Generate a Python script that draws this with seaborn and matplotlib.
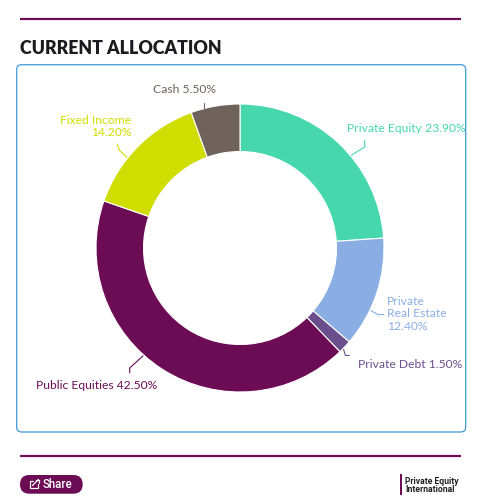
import numpy as np
import matplotlib
matplotlib.use("Agg")
import matplotlib.pyplot as plt
import seaborn as sns
from matplotlib.patches import FancyBboxPatch, Rectangle

# ---- data ----
categories = ["Private Equity", "Private Real Estate", "Private Debt",
              "Public Equities", "Fixed Income", "Cash"]
display_names = ["Private Equity", "Private\nReal Estate", "Private Debt",
                 "Public Equities", "Fixed Income\n", "Cash"]
values = [23.9, 12.4, 1.5, 42.5, 14.2, 5.5]
title = "CURRENT ALLOCATION"

# ---- style ----
colors = ["#47d7ac", "#8aaee3", "#6b4f8c", "#6c0c55", "#d0dd00", "#6f625a"]
sns.set_theme(style="white")
plt.rcParams["font.family"] = ["Lato", "DejaVu Sans"]

W, H = 482, 504
fig = plt.figure(figsize=(W / 100, H / 100), dpi=100)
fig.patch.set_facecolor("white")

# background / decoration axes in pixel units (y down)
bg = fig.add_axes([0, 0, 1, 1])
bg.set_xlim(0, W)
bg.set_ylim(H, 0)
bg.axis("off")

purple = "#6c0c55"
bg.plot([20, 461], [18.7, 18.7], color=purple, lw=1.6, solid_capstyle="butt")
bg.plot([20, 461], [455.7, 455.7], color=purple, lw=1.6, solid_capstyle="butt")
bg.text(20.5, 48, title, fontsize=12.8, fontweight="heavy", color="#1b1b1f",
        ha="left", va="center")
box = FancyBboxPatch((16.7, 64.7), 449, 367.3,
                     boxstyle="round,pad=0,rounding_size=5",
                     fc="white", ec="#3d9ad8", lw=0.9)
bg.add_patch(box)

# share button
btn = FancyBboxPatch((20, 475), 62.7, 18.7,
                     boxstyle="round,pad=0,rounding_size=9.3",
                     fc=purple, ec="none")
bg.add_patch(btn)
bg.plot([33, 30, 30, 38, 38], [480.5, 480.5, 487.5, 487.5, 484],
        color="white", lw=0.9, solid_joinstyle="miter")
bg.plot([32.5, 38.5], [485.5, 479.5], color="white", lw=0.9)
bg.plot([35.5, 38.5, 38.5], [479.5, 479.5, 482.5], color="white", lw=0.9)
bg.text(43, 484.5, "Share", fontsize=8.3, color="white", ha="left", va="center",
        family=["Roboto", "DejaVu Sans"], fontweight="medium")

# logo
bg.add_patch(Rectangle((400, 474), 2.3, 20.5, fc=purple, ec="none"))
bg.text(405, 481, "Private Equity", fontsize=6.2, color="#222222", ha="left",
        va="center", family=["Roboto", "DejaVu Sans"], fontweight="bold")
bg.text(405, 489, "International", fontsize=6.2, color="#222222", ha="left",
        va="center", family=["Roboto", "DejaVu Sans"], fontweight="bold")

# ---- donut ----
cx, cy, R = 240, 248, 144
ax = fig.add_axes([(cx - R) / W, (H - cy - R) / H, 2 * R / W, 2 * R / H])
ax.patch.set_alpha(0)
wedges, _ = ax.pie(values, colors=colors, startangle=90, counterclock=False,
                   radius=1, wedgeprops=dict(width=0.33, edgecolor="white",
                                             linewidth=0.8))
ax.set_xlim(-1, 1)
ax.set_ylim(-1, 1)
ax.set_aspect("equal")
ax.axis("off")

# ---- labels with connectors (overlay, pixel units) ----
ov = fig.add_axes([0, 0, 1, 1])
ov.set_xlim(0, W)
ov.set_ylim(H, 0)
ov.axis("off")
ov.patch.set_alpha(0)

# per-label style: angle shift, elbow offset, end offset, text offset, ha
label_style = [
    (-7.2, (13.3, -8.3), (0, -6.7), (-18, -12), "left"),
    (-7.2, (7, 4), (6, 0), (3, -0.7), "left"),
    (-1.0, (1.7, 6), (4, 0), (8.6, 9), "left"),
    (-9.4, (-13.3, 12.3), (0, 4.7), (-33, 12.3), "center"),
    (5.9, (-7.7, -7.3), (-2, -6), (14, -17.5), "right"),
    (4.6, (0, -2.5), (0, -2.5), (-19, -13), "center"),
]

for w, name, v, col, st in zip(wedges, display_names, values, colors, label_style):
    shift, e1, e2, toff, ha = st
    mid = np.deg2rad((w.theta1 + w.theta2) / 2 + shift)
    x0 = cx + (R + 1) * np.cos(mid)
    y0 = cy - (R + 1) * np.sin(mid)
    x1, y1 = x0 + e1[0], y0 + e1[1]
    x2, y2 = x1 + e2[0], y1 + e2[1]
    ov.plot([x0, x1, x2], [y0, y1, y2], color=col, lw=0.8)
    if name.endswith("\n"):
        txt = f"{name.strip()}\n{v:.2f}%"
    elif "\n" in name:
        txt = f"{name}\n{v:.2f}%"
    else:
        txt = f"{name} {v:.2f}%"
    ov.text(x2 + toff[0], y2 + toff[1], txt, color=col, fontsize=8.7,
            ha=ha, va="center", multialignment=ha if ha != "center" else "center",
            linespacing=1.2, fontweight="normal")

fig.savefig("out.png", dpi=100, facecolor="white")
